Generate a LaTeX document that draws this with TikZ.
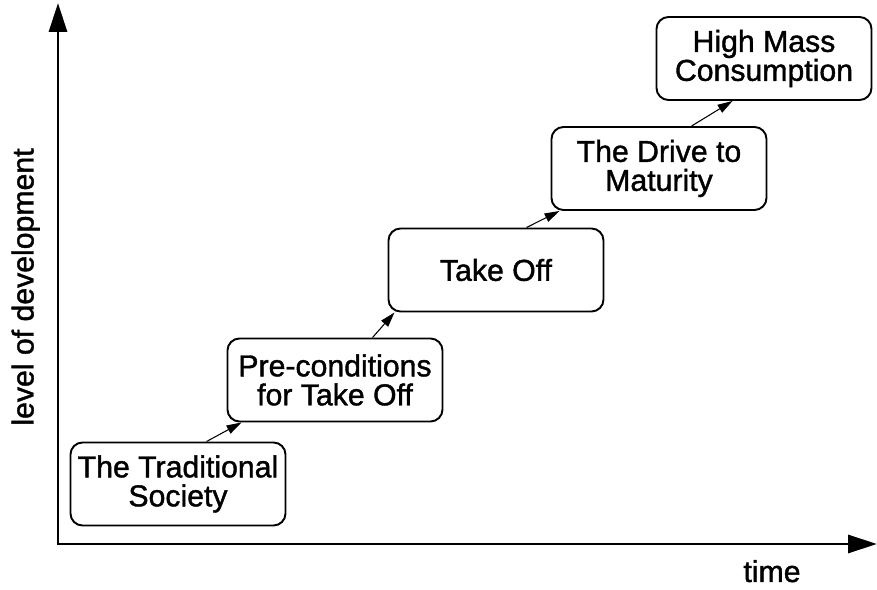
\documentclass[tikz,border=0pt]{standalone}
\usepackage{fontspec}
\setmainfont{Liberation Sans}[FakeBold=1.3]
\usepackage{tikz}
\usetikzlibrary{arrows.meta}
\usetikzlibrary{calc}
\usetikzlibrary{positioning}

\tikzset{
  stage/.style={draw, line width=1.1pt, rounded corners=0.24cm, minimum width=4.3cm, minimum height=1.66cm, align=center, inner sep=0pt, font=\fontsize{17.2}{16.5}\selectfont},
  axis/.style={line width=1.7pt, line join=miter, {Triangle[length=0.58cm,width=0.36cm]}-{Triangle[length=0.58cm,width=0.36cm]}},
  link/.style={line width=0.6pt, -{Triangle[length=0.3cm,width=0.18cm]}},
  axislabel/.style={font=\fontsize{17.2}{17}\selectfont}
}

\begin{document}
\begin{tikzpicture}
\useasboundingbox (0,0) rectangle (17.54,11.8);

% axis
\coordinate (origin) at (1.16,0.92);
\coordinate (ytip) at (1.16,11.74);
\coordinate (xtip) at (17.54,0.92);
\draw[axis] (ytip) -- (origin) -- (xtip);
\node[axislabel, anchor=base] (time) at (15.44,0.16) {time};
\node[axislabel, anchor=base, rotate=90] (level) at (0.67,6.06) {level of development};

% stages
\node[stage] (traditional) at (3.56,2.12) {The Traditional\\Society};
\node[stage] (preconditions) at (6.70,4.20) {Pre-conditions\\for Take Off};
\node[stage] (takeoff) at (9.92,6.40) {Take Off};
\node[stage] (maturity) at (13.18,8.43) {The Drive to\\Maturity};
\node[stage] (consumption) at (15.28,10.63) {High Mass\\Consumption};

% links
\draw[link] ($(traditional.north west)+(2.74,0)$) -- ($(preconditions.south west)+(0.30,0)$);
\draw[link] ($(preconditions.north west)+(2.92,0)$) -- ($(takeoff.south west)+(0.14,0)$);
\draw[link] ($(takeoff.north west)+(2.78,0)$) -- ($(maturity.south west)+(0.18,0)$);
\draw[link] ($(maturity.north west)+(2.82,0)$) -- ($(consumption.south west)+(1.54,0)$);
\end{tikzpicture}
\end{document}
